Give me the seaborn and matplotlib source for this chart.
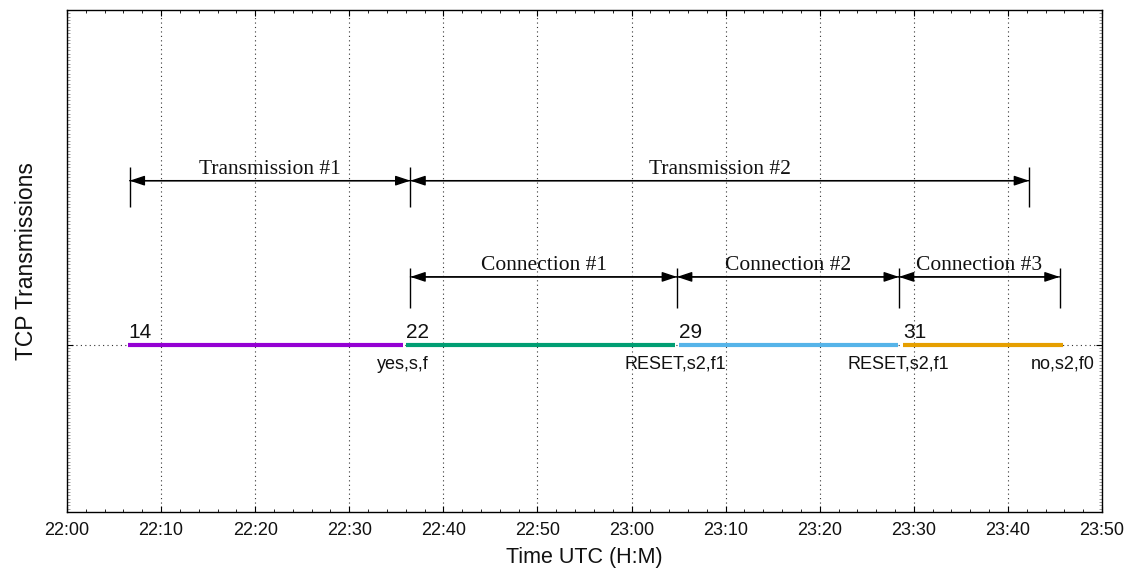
import pandas as pd
import matplotlib.pyplot as plt
import matplotlib.dates as mdates
from matplotlib.ticker import MultipleLocator, NullFormatter
import seaborn as sns

day = "2023-01-01 "

# TCP segments
seg_ids = ["14", "22", "29", "31"]
seg_start = ["22:06:30", "22:36:05", "23:05:05", "23:28:50"]
seg_end = ["22:35:40", "23:04:40", "23:28:20", "23:45:50"]
seg_flags = ["yes,s,f", "RESET,s2,f1", "RESET,s2,f1", "no,s2,f0"]
seg_colors = ["#9400d3", "#009e73", "#56b4e9", "#e69f00"]

# dimension arrows
trans_names = ["Transmission #1", "Transmission #2"]
trans_bounds = ["22:06:40", "22:36:30", "23:42:15"]
conn_names = ["Connection #1", "Connection #2", "Connection #3"]
conn_bounds = ["22:36:30", "23:04:50", "23:28:25", "23:45:30"]


def t(s):
    return pd.to_datetime(day + s)


rows = []
for sid, a, b in zip(seg_ids, seg_start, seg_end):
    rows.append({"id": sid, "time": t(a), "y": 1.0})
    rows.append({"id": sid, "time": t(b), "y": 1.0})
df = pd.DataFrame(rows)

sns.set_style("ticks")
plt.rcParams["font.family"] = ["Liberation Sans", "DejaVu Sans"]
plt.rcParams["text.color"] = "#111111"
plt.rcParams["axes.labelcolor"] = "#111111"

fig = plt.figure(figsize=(11.35, 5.75), dpi=100)
ax = fig.add_axes([0.059, 0.1096, 0.9119, 0.873])

sns.lineplot(data=df, x="time", y="y", hue="id", palette=seg_colors,
             estimator=None, sort=False, linewidth=3, legend=False, ax=ax, zorder=3,
             solid_capstyle="butt")

ax.set_xlim(t("22:00:00"), t("23:50:00"))
ax.set_ylim(0, 3)
ax.xaxis.set_major_locator(mdates.MinuteLocator(byminute=range(0, 60, 10)))
ax.xaxis.set_minor_locator(mdates.MinuteLocator(byminute=range(0, 60, 2)))
ax.xaxis.set_major_formatter(mdates.DateFormatter("%H:%M"))
ax.set_yticks([1])
ax.yaxis.set_major_formatter(NullFormatter())
ax.yaxis.set_minor_locator(MultipleLocator(0.02))

ax.grid(True, which="major", color="#333333", linestyle=(0, (1, 3)), linewidth=0.8)
ax.tick_params(which="both", direction="in", top=True, right=True, colors="black",
               labelcolor="#111111", labelsize=13)
ax.tick_params(which="major", length=4, width=0.8, pad=7)
ax.tick_params(which="minor", length=2, width=0.6)
ax.tick_params(axis="y", which="minor", length=2, width=0.4, colors="#555555")
for s in ax.spines.values():
    s.set_linewidth(1)
    s.set_color("black")

ax.set_xlabel("Time UTC (H:M)", fontsize=15.5, labelpad=6)
ax.set_ylabel("TCP Transmissions", fontsize=16.5, labelpad=14)

# segment labels
for sid, a, b, fl in zip(seg_ids, seg_start, seg_end, seg_flags):
    ax.annotate(sid, (mdates.date2num(t(a)), 1.0), xytext=(0, 2), textcoords="offset points",
                ha="left", va="bottom", fontsize=15)
    ax.annotate(fl, (mdates.date2num(t(b)), 1.0), xytext=(0, -8), textcoords="offset points",
                ha="center", va="top", fontsize=13)


def dims(names, bounds, y, lo, hi):
    xs = [mdates.date2num(t(b)) for b in bounds]
    ax.vlines(xs, lo, hi, color="black", linewidth=1)
    for name, a, b in zip(names, xs[:-1], xs[1:]):
        ax.annotate("", xy=(b, y), xytext=(a, y),
                    arrowprops=dict(arrowstyle="-|>,head_length=0.9,head_width=0.3",
                                    color="black", lw=1, shrinkA=0, shrinkB=0))
        ax.annotate("", xy=(a, y), xytext=(b, y),
                    arrowprops=dict(arrowstyle="-|>,head_length=0.9,head_width=0.3",
                                    color="black", lw=1, shrinkA=0, shrinkB=0))
        ax.text((a + b) / 2, y + 0.01, name, ha="center", va="bottom", fontsize=15.5,
                family=["Liberation Serif", "DejaVu Serif"])


dims(trans_names, trans_bounds, 1.98, 1.82, 2.06)
dims(conn_names, conn_bounds, 1.405, 1.22, 1.46)

fig.savefig("out.png", dpi=100)
